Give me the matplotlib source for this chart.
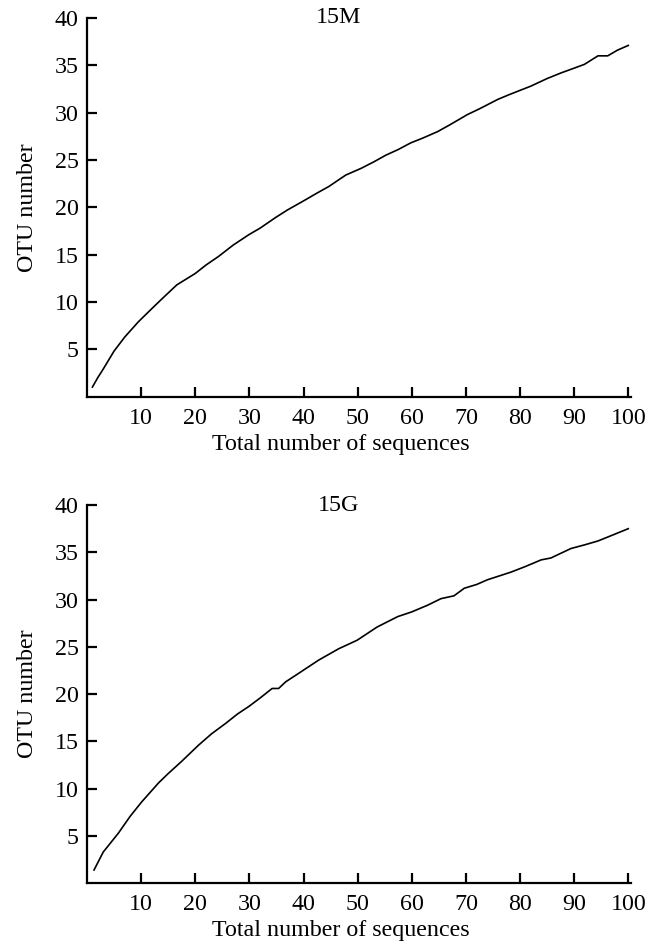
import numpy as np
import matplotlib
matplotlib.use("Agg")
import matplotlib.pyplot as plt

plt.rcParams['font.family'] = ['Liberation Serif', 'DejaVu Serif']

# rarefaction curves
x_15m = [1, 2, 3, 5, 7, 9.5, 12, 14, 16.6, 20, 22, 24.3, 27, 29.9, 32, 34.8, 37, 40.4, 42.5,
         44.7, 47.8, 50.6, 53, 55.2, 57.5, 59.8, 62, 64.8, 67, 70.3, 72.5, 75.9, 78, 82, 85,
         87.6, 90, 91.9, 94.4, 96.2, 98, 100]
y_15m = [1.0, 2.0, 2.9, 4.8, 6.3, 7.9, 9.3, 10.4, 11.8, 13.0, 13.9, 14.8, 16.0, 17.1, 17.8,
         18.9, 19.7, 20.8, 21.5, 22.2, 23.4, 24.1, 24.8, 25.5, 26.1, 26.8, 27.3, 28.0, 28.7,
         29.8, 30.4, 31.4, 31.9, 32.8, 33.6, 34.2, 34.7, 35.1, 36.0, 36.0, 36.6, 37.1]

x_15g = [1.3, 3, 5.8, 8, 10.1, 13.2, 15, 17.5, 20.6, 23, 25.6, 27.8, 29.9, 32, 34.2, 35.4,
         36.7, 39.1, 42.8, 46.5, 49.9, 53.6, 57.4, 60, 62.9, 65.4, 67.8, 69.7, 72, 74, 78.3,
         81, 83.9, 85.7, 89.4, 92, 94.4, 97, 100]
y_15g = [1.4, 3.3, 5.3, 7.1, 8.6, 10.6, 11.6, 12.9, 14.6, 15.8, 16.9, 17.9, 18.7, 19.6, 20.6,
         20.6, 21.3, 22.2, 23.6, 24.8, 25.7, 27.1, 28.2, 28.7, 29.4, 30.1, 30.4, 31.2, 31.6,
         32.1, 32.9, 33.5, 34.2, 34.4, 35.4, 35.8, 36.2, 36.8, 37.5]

panels = [("15M", x_15m, y_15m), ("15G", x_15g, y_15g)]
xticks = [10, 20, 30, 40, 50, 60, 70, 80, 90, 100]
yticks = [5, 10, 15, 20, 25, 30, 35, 40]

fs = 17.3

fig = plt.figure(figsize=(6.61, 9.52), dpi=100)
ax_top = fig.add_axes([0.1316, 0.5835, 0.8230, 0.3976])
ax_bot = fig.add_axes([0.1316, 0.0722, 0.8230, 0.3973])

for ax, (name, xs, ys) in zip([ax_top, ax_bot], panels):
    ax.plot(xs, ys, color='black', lw=1.2)
    ax.set_xlim(0, 100.5)
    ax.set_ylim(0, 40)
    ax.set_xticks(xticks)
    ax.set_yticks(yticks)
    for s in ['top', 'right']:
        ax.spines[s].set_visible(False)
    for s in ['left', 'bottom']:
        ax.spines[s].set_linewidth(1.6)
    ax.tick_params(direction='in', length=7, width=1.6, labelsize=fs)
    ax.tick_params(axis='x', pad=8)
    ax.tick_params(axis='y', pad=6)
    ax.text(46.5, 40, name, ha='center', va='center', fontsize=fs)
    ax.set_xlabel('Total number of sequences', fontsize=fs)
    ax.set_ylabel('OTU number', fontsize=fs)
    ax.xaxis.set_label_coords(0.466, -0.098)
    ax.yaxis.set_label_coords(-0.09, 0.5)

fig.savefig('out.png', dpi=100)
